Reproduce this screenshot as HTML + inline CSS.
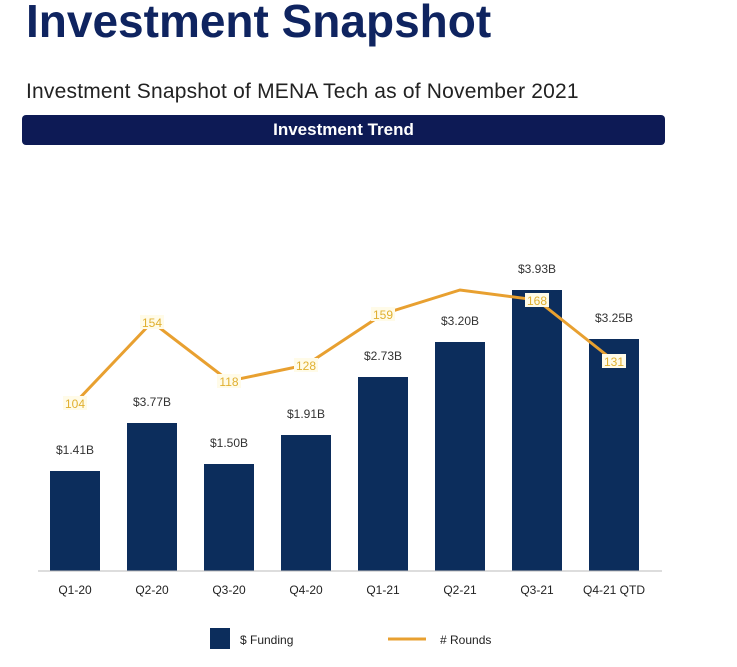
<!DOCTYPE html>
<html><head><style>
body{margin:0;width:737px;height:667px;background:#fff;overflow:hidden;font-family:"Liberation Sans",sans-serif;position:relative}
.t{position:absolute;left:26px;top:-6px;font-size:46px;font-weight:bold;color:#0f2460;letter-spacing:0px}
.s{position:absolute;left:26px;top:80px;font-size:21px;color:#222;letter-spacing:0.2px}
.b{position:absolute;left:22px;top:115px;width:643px;height:30px;background:#0d1a55;border-radius:4px;color:#fff;font-weight:bold;font-size:17px;text-align:center;line-height:30px}
</style></head><body>
<div class="t">Investment Snapshot</div>
<div class="s">Investment Snapshot of MENA Tech as of November 2021</div>
<div class="b">Investment Trend</div>
<svg width="737" height="667" style="position:absolute;left:0;top:0" font-family="Liberation Sans, sans-serif">
<g fill="#0c2d5c">
<rect x="50" y="471" width="50" height="100"/>
<rect x="127" y="423" width="50" height="148"/>
<rect x="204" y="464" width="50" height="107"/>
<rect x="281" y="435" width="50" height="136"/>
<rect x="358" y="377" width="50" height="194"/>
<rect x="435" y="342" width="50" height="229"/>
<rect x="512" y="290" width="50" height="281"/>
<rect x="589" y="339" width="50" height="232"/>
</g>
<line x1="38" y1="571" x2="662" y2="571" stroke="#bbb"/>
<g font-size="12" fill="#333" text-anchor="middle">
<text x="75" y="454">$1.41B</text><text x="152" y="406">$3.77B</text><text x="229" y="447">$1.50B</text><text x="306" y="418">$1.91B</text><text x="383" y="360">$2.73B</text><text x="460" y="325">$3.20B</text><text x="537" y="273">$3.93B</text><text x="614" y="322">$3.25B</text>
</g>
<polyline points="75,403 152,322 229,381 306,365 383,314 460,290 537,300 614,361" fill="none" stroke="#e8a030" stroke-width="3"/>
<g fill="#fffbe8">
<rect x="63" y="396" width="24" height="14"/><rect x="140" y="315" width="24" height="14"/><rect x="217" y="374" width="24" height="14"/><rect x="294" y="358" width="24" height="14"/><rect x="371" y="307" width="24" height="14"/><rect x="525" y="293" width="24" height="14"/><rect x="602" y="354" width="24" height="14"/>
</g>
<g font-size="12" fill="#e0b030" text-anchor="middle">
<text x="75" y="408">104</text><text x="152" y="327">154</text><text x="229" y="386">118</text><text x="306" y="370">128</text><text x="383" y="319">159</text><text x="537" y="305">168</text><text x="614" y="366">131</text>
</g>
<g font-size="12" fill="#222" text-anchor="middle">
<text x="75" y="594">Q1-20</text><text x="152" y="594">Q2-20</text><text x="229" y="594">Q3-20</text><text x="306" y="594">Q4-20</text><text x="383" y="594">Q1-21</text><text x="460" y="594">Q2-21</text><text x="537" y="594">Q3-21</text><text x="614" y="594">Q4-21 QTD</text>
</g>
<rect x="210" y="628" width="20" height="21" fill="#0c2d5c"/>
<text x="240" y="644" font-size="12" fill="#222">$ Funding</text>
<line x1="388" y1="639" x2="426" y2="639" stroke="#e8a030" stroke-width="3"/>
<text x="440" y="644" font-size="12" fill="#222"># Rounds</text>
</svg>
</body></html>
